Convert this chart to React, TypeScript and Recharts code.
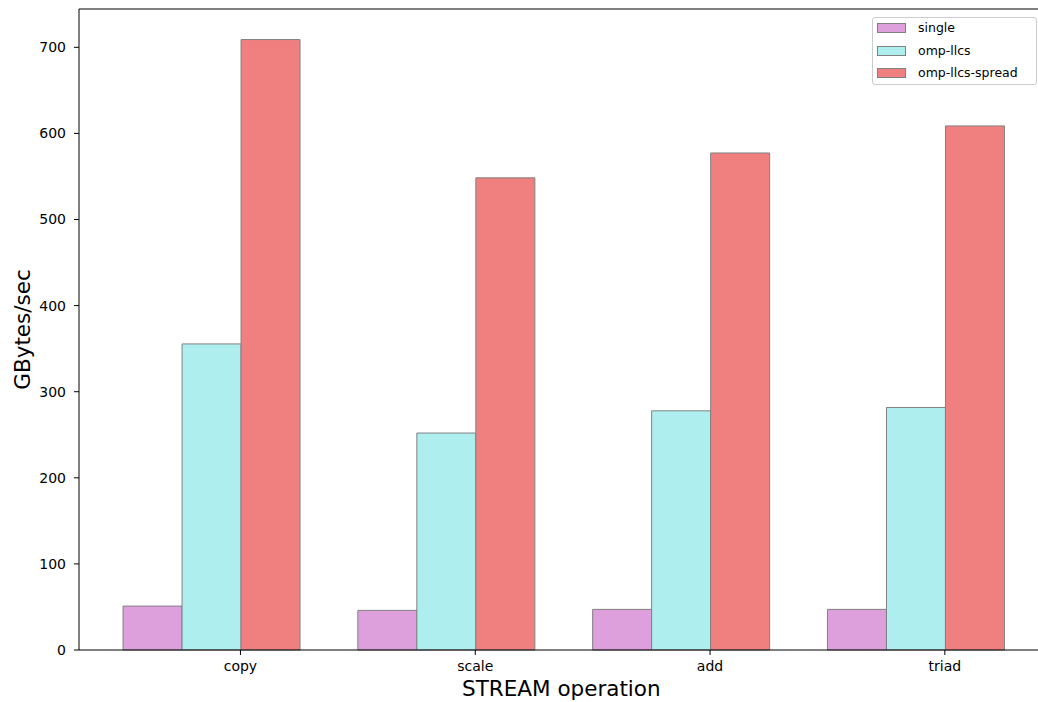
import React from 'react';
import { BarChart, Bar, XAxis, YAxis, Legend, ReferenceLine } from 'recharts';

const categories = ['copy', 'scale', 'add', 'triad'];
const singleValues = [51, 46, 47.2, 47.2];
const ompLlcsValues = [355.5, 252, 277.8, 281.7];
const ompLlcsSpreadValues = [709, 548.4, 577.3, 608.7];
const yTicks = [0, 100, 200, 300, 400, 500, 600, 700];
const Y_MAX = 744.5;

const seriesDefs = [
  { key: 'single', name: 'single', color: '#DDA0DD' },
  { key: 'ompLlcs', name: 'omp-llcs', color: '#AFEEEE' },
  { key: 'ompLlcsSpread', name: 'omp-llcs-spread', color: '#F08080' },
];

const data = categories.map((c, i) => ({
  name: c,
  single: singleValues[i],
  ompLlcs: ompLlcsValues[i],
  ompLlcsSpread: ompLlcsSpreadValues[i],
}));

const FONT = '"DejaVu Sans", sans-serif';
const PLOT_LEFT = 79;
const PLOT_WIDTH = 968.6;
const CHART_W = 1050;
const CHART_H = 702;
const X_PAD = 14.7;
const BAND = (PLOT_WIDTH - 2 * X_PAD) / categories.length;
const TICK_SHIFT = BAND * 0.125;

const XTick = (props: any) => {
  const { x, y, payload } = props;
  const tx = x + TICK_SHIFT;
  return (
    <g>
      <line x1={tx} x2={tx} y1={y} y2={y + 5} stroke="#000" strokeWidth={1} />
      <text x={tx} y={y + 21} textAnchor="middle" fontSize={14} fontFamily={FONT} fill="#000">
        {payload.value}
      </text>
    </g>
  );
};

const LegendContent = () => (
  <div
    style={{
      position: 'relative',
      width: 165,
      height: 68,
      boxSizing: 'border-box',
      border: '1px solid #cccccc',
      borderRadius: 3,
      background: 'rgba(255,255,255,0.8)',
      fontFamily: FONT,
      fontSize: 12.5,
      color: '#000',
    }}
  >
    {seriesDefs.map((s, i) => (
      <div key={s.key} style={{ position: 'absolute', left: 0, top: 10 + i * 22.5 - 9, height: 18, width: 165 }}>
        <div
          style={{
            position: 'absolute',
            left: 4,
            top: 4,
            width: 29,
            height: 10,
            boxSizing: 'border-box',
            background: s.color,
            border: '1px solid grey',
          }}
        />
        <span style={{ position: 'absolute', left: 45, top: 0, lineHeight: '18px', whiteSpace: 'nowrap' }}>{s.name}</span>
      </div>
    ))}
  </div>
);

export default function App() {
  return (
    <div style={{ position: 'absolute', left: 0, top: 0, width: 1038, height: 702, overflow: 'hidden', background: '#fff' }}>
      <BarChart
        width={CHART_W}
        height={CHART_H}
        data={data}
        margin={{ top: 9, right: CHART_W - PLOT_LEFT - PLOT_WIDTH, left: 0, bottom: 0 }}
        barCategoryGap="12.5%"
        barGap={0}
      >
        <XAxis
          dataKey="name"
          height={52}
          padding={{ left: X_PAD, right: X_PAD }}
          tickLine={false}
          tickSize={0}
          tickMargin={0}
          tick={<XTick />}
          axisLine={{ stroke: '#000', strokeWidth: 1 }}
          label={(p: any) => {
            const vb = p.viewBox || {};
            return (
              <text x={vb.x + vb.width / 2 - 2} y={696} textAnchor="middle" fontSize={21.5} fontFamily={FONT} fill="#000">
                STREAM operation
              </text>
            );
          }}
        />
        <YAxis
          width={PLOT_LEFT}
          domain={[0, Y_MAX]}
          ticks={yTicks}
          interval={0}
          tickSize={5}
          tickMargin={8}
          tickLine={{ stroke: '#000' }}
          axisLine={{ stroke: '#000', strokeWidth: 1 }}
          tick={{ fontSize: 14, fontFamily: FONT, fill: '#000' }}
          label={(p: any) => {
            const vb = p.viewBox || {};
            const cy = vb.y + vb.height / 2;
            return (
              <text x={24} y={cy} transform={`rotate(-90, 24, ${cy})`} textAnchor="middle" dominantBaseline="middle" fontSize={21.5} fontFamily={FONT} fill="#000">
                GBytes/sec
              </text>
            );
          }}
        />
        <ReferenceLine y={Y_MAX} stroke="#000" strokeWidth={1} />
        <Legend
          layout="horizontal"
          verticalAlign="middle"
          align="center"
          wrapperStyle={{ top: 17, left: 872, width: 165, height: 68 }}
          content={<LegendContent />}
        />
        {seriesDefs.map((s) => (
          <Bar
            key={s.key}
            dataKey={s.key}
            name={s.name}
            fill={s.color}
            stroke="grey"
            strokeWidth={1}
            isAnimationActive={false}
          />
        ))}
      </BarChart>
    </div>
  );
}
